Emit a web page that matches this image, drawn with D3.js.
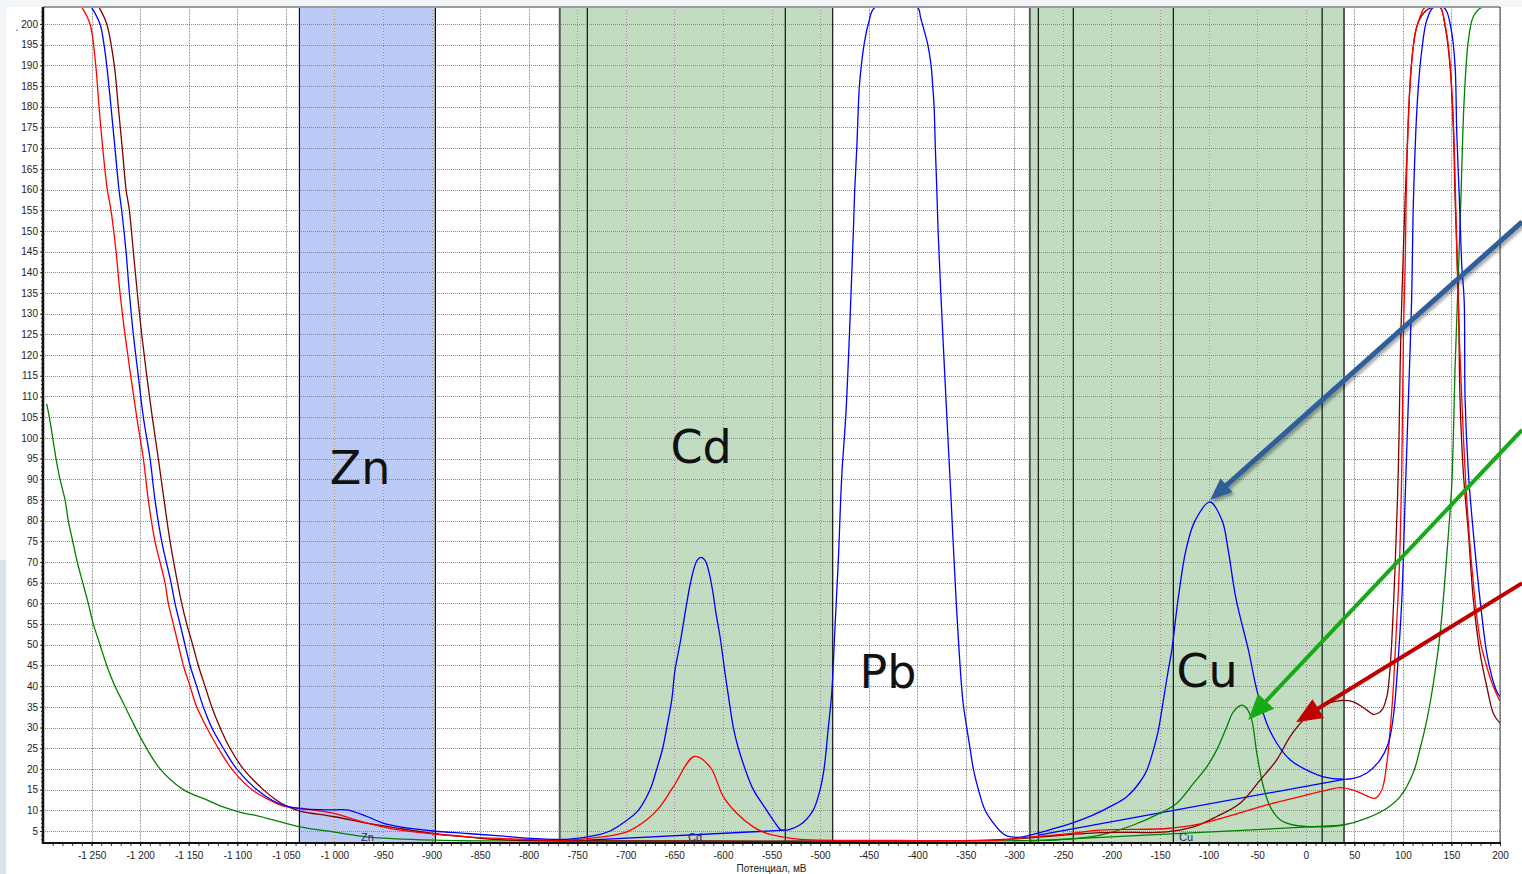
<!DOCTYPE html>
<html>
<head>
<meta charset="UTF-8">
<style>
  body { margin: 0; background: #f3f6f9; }
  svg { display: block; }
  .tick text { font-family: "Liberation Sans", Arial, sans-serif; font-size: 10px; fill: #222; }
</style>
</head>
<body>
<svg id="chart"></svg>
<script src="https://d3js.org/d3.v7.min.js"></script>
<script>
// ---- data (potential in mV, signal) ----
const xTicks = d3.range(-1250, 201, 50);
const yTicks = d3.range(5, 201, 5);

// integration windows
const zoneNames = ["Zn", "Cd", "Cu"];
const zoneFrom = [-1036, -768, -284];
const zoneTo = [-896, -487, 39.4];
const zoneInner = [[], [-739.6, -535.8], [-275.3, -239.3, -136.3, 16.9]];
const zoneTagX = [-966, -628.7, -123.2];

const elementNames = ["Zn", "Cd", "Pb", "Cu"];
const elementX = [-973.6, -622.5, -430, -101.5];
const elementY = [88.9, 93.9, 39.6, 39.8];

const blueCurve = [
  [-1250,204],[-1241.3,200],[-1237.2,195],[-1234.4,190],[-1230,180],[-1225.9,170],[-1221.8,160],[-1219,155],
  [-1214.5,145],[-1211.1,135],[-1207,125],[-1201.9,115],[-1196.7,105],[-1189.8,95],[-1184.7,85],[-1177.8,75],
  [-1168.2,65],[-1164.1,60],[-1158.9,55],[-1153.8,50],[-1148.6,45],[-1141.8,40],[-1135,35],[-1126.3,30],
  [-1114.4,25],[-1100.6,20],[-1080,15],[-1063.2,12.3],[-1049.1,11],[-1035.4,10.4],[-1001.4,10.1],[-987,10.1],
  [-966.4,8.5],[-949.9,6.9],[-932.4,6.0],
  [-898.5,5.0],[-863.4,4.4],[-829.5,3.8],[-808.9,3.4],[-760.8,3.0],[-729.9,4.0],[-716.2,5.0],[-702.5,7.0],
  [-687.1,10],[-675,15],[-668.1,20],[-662,25],[-657.8,30],[-652.7,36.7],[-649.3,44],[-644.1,50.4],[-637.3,60],
  [-633.8,64.5],[-629.7,68.5],[-626.6,70.4],[-622.5,71.1],[-618.4,70.4],[-614.3,67.5],[-610.2,62.5],
  [-607.1,57.5],[-603,52],[-597.8,43.1],[-592.7,35],[-589.3,30],
  [-584.1,25],[-577.2,20],[-568.7,15],[-554.9,10],[-547,7.2],[-539.4,5.2],[-520.6,6.5],[-507.2,10],[-500,15],
  [-495.9,20],
  [-491.5,30],[-488,38.3],[-484.6,54.4],[-481.2,70.5],[-477.7,90.6],[-473.2,106.7],[-468.1,135],[-465.7,150],
  [-464.3,160],[-462.2,170],[-460.6,180],[-459.5,185],[-457.5,190],[-454.7,195],[-450.3,200],[-443.4,204],
  [-399.8,204],[-396.5,201.5],[-389.1,195],[-385.7,190],[-384,185],[-382.6,180],[-381.3,170],[-379.8,160],
  [-378.5,150],[-375.7,135],[-370.3,109],[-365.1,85],[-360,61],[-353.1,36.7],[-349,30],[-345.6,25],[-342.2,20],
  [-337,15],[-330.1,10],[-321.9,7],[-314.7,5],[-307.8,3.8],[-294.1,3.5],[-273.5,4.6],[-252.9,6.0],[-239.2,7],
  [-218.6,8.9],[-201.4,10.9],[-184.2,13.3],[-170.5,16.9],[-163.6,19.7],[-156.8,24.6],[-151.7,29.4],
  [-146.5,36.7],[-141.4,44],[-137.9,48.7],[-131.4,61],[-123.2,73],[-113.9,80],[-98.5,84.5],[-86.1,80],
  [-79.9,73],[-71.7,61],[-59,48.7],[-50.4,39.1],[-40.1,31],[-29.8,26.2],[-16.1,22.2],[1.1,19.7],
  [18.2,18.1],[38.8,17.5],[49.1,17.7],[62.9,19],[76.6,22.2],[85.1,26.2],[90.2,32.6],[93.8,42],[98.9,60.8],
  [102.3,85],[105.7,109.2],[109,133.3],[110.9,157.5],[115,181.6],[119.5,193.7],[124.7,201],[131.4,204],
  [141.7,204],[145.2,203],[150.4,197.8],[153.8,189.7],[155.5,173.6],[158.2,157.5],[160.7,141.4],[163.1,133.3],
  [164.1,109],[167.5,91.4],[172.6,76.9],[179.5,60.8],[186.4,47.9],[191.6,42.3],[196.7,38.7],[200,37.5]
];

const redCurve = [
  [-1260,204],[-1251.6,200],[-1245.7,190],[-1242.3,180],[-1238.5,170],[-1233.8,160],[-1230,155],[-1224.8,145],
  [-1220.7,135],[-1215.6,125],[-1209.7,115],[-1203.5,105],[-1196.7,95],[-1191.6,85],[-1184.7,75],[-1174.4,65],
  [-1171,60],[-1165.8,55],[-1160.7,50],[-1155.5,45],[-1148.6,40],[-1141.8,35],[-1131.5,30],[-1119.5,25],
  [-1105.7,20],[-1085.1,15],[-1066,12.4],[-1052.6,11],[-1035.4,10.5],[-1001.4,9.3],[-983.9,8.1],[-966.4,6.9],
  [-949.9,6.0],[-932.4,5.2],[-898.5,4.3],
  [-863.4,3.6],[-829.5,3.2],[-760.8,2.8],[-726.5,3.5],[-699,4.8],[-678.4,7.7],[-664.7,10.9],[-651,15.7],
  [-629.4,23],[-613.3,20.5],[-599.6,13.3],[-585.8,9.3],[-568.7,6],[-554.9,4.4],[-537.8,3.5],[-520.6,3],
  [-417.6,2.7],[-314.7,2.8],[-283.8,3.5],[-246,4.3],[-211.7,5.2],[-143.1,5.6],[-108.8,6.7],[-74.5,8.9],
  [-40.1,11.3],[-5.8,13.3],[21.7,14.9],[35.4,15.5],[49.1,14.9],[62.9,13.5],[71.4,12.9],[78.3,14.9],[83.5,21.4],
  [86.9,29.4],[89.6,37.5],[92.5,50],[96.4,68.9],[98.9,93.1],[100.6,125.3],[102.3,141.4],[104.1,165.5],
  [107.5,185.6],[112.6,197.7],[117.8,201.8],[122.9,204],[138.4,204],[142.5,201],[147.6,193],[151.7,178],
  [154.3,157.5],[156.9,133.3],[160.7,109],[165.8,85],[172.6,64.8],[179.5,51.1],[186.4,44.7],[193.2,39.9],
  [199.4,36.7],[200,36.5]
];

const maroonCurve = [
  [-1242.3,204],[-1234.4,200],[-1226.6,190],[-1222.5,180],[-1218.4,170],[-1214.5,160],[-1211.1,155],[-1207,145],
  [-1202.9,135],[-1198.4,125],[-1193.2,115],[-1187.5,105],[-1181.3,95],[-1175.4,85],[-1169.2,75],[-1161.5,65],
  [-1157.2,60],[-1152,55],[-1145.9,50],[-1140.1,45],[-1133.2,40],[-1126.3,35],[-1117.8,30],[-1107.5,25],
  [-1093.8,20],[-1073.2,15],[-1060,12.5],[-1049.1,11],[-1035.4,9.8],[-1001.4,8.5],[-966.4,6.9],[-932.4,5.6],
  [-898.5,4.4],[-863.4,3.6],[-829.5,2.9],
  [-623.6,2.6],[-417.6,2.6],[-314.7,2.9],[-211.7,4.6],[-143.1,4.8],[-115.6,6.0],[-91.6,8.5],[-67.6,11.7],
  [-47,17.3],[-29.8,22.2],[-16.1,27.8],[-2.4,31.8],[14.8,35],[35.4,36.5],[49.1,36.2],[62.9,34.2],[69.7,33.2],
  [78.3,34.2],[83.5,37.5],[85.8,41.5],[87.9,48],[92,68.9],[95.4,93.1],[97.2,117.2],[98.9,133.3],[102.3,157.5],
  [105.7,177.6],[109.2,191.3],[114.4,199.4],[121.2,202.6],[129.8,204],[138.4,204],[143.5,199.4],[148.6,189.7],
  [152.1,173.6],[153.8,157.5],[157.2,133.3],[158.9,109],[162.3,91.4],[167.5,76.9],[172.6,60.8],[179.5,47.9],
  [186.4,39.9],[193.2,33.4],[200,31]
];

const greenCurve = [
  [-1296.2,108.2],[-1293.5,105],[-1290,100],[-1286.6,95],[-1282.5,90],[-1277.3,85],[-1274,80],[-1269.4,75],
  [-1264.7,70],[-1259.1,65],[-1253.4,60],[-1248.2,55],[-1241.3,50],[-1234.4,45],[-1225.9,40],[-1219,36.7],
  [-1208.7,31.8],[-1200.1,27.8],[-1179.5,20],[-1155.5,15],[-1131.5,12.5],[-1110.9,10.5],[-1093.8,9.3],
  [-1080,8.7],[-1035.4,6.0],[-1001.1,4.8],[-966.7,3.6],[-898.1,2.8],[-829.5,2.6],[-314.7,2.6],[-283.8,2.7],
  [-246,3.0],[-211.7,4.0],[-177.4,6.45],[-149.9,9.3],[-132.7,11.7],[-115.6,16.5],[-101.9,20.5],[-91.6,24.6],
  [-81.3,30.2],[-74.5,33.8],[-65.8,35.4],[-60.7,34.6],[-55.5,31.8],[-50.4,23.8],[-43.6,15.7],[-36.7,10.9],
  [-26.4,7.7],[-12.7,6.45],[11.4,6.0],[38.8,6.45],[62.9,8.1],[83.5,10.5],[97.2,13.3],[110.6,19],[117.8,25],
  [124.7,31.8],[131.4,40.7],[138.4,52.8],[146.9,76.9],[150.4,89],[153.8,117.2],[156.2,133.3],[159.7,157.5],
  [163.1,181.6],[167.5,196.1],[172.6,201.8],[181.3,204],[200,204]
];

// peak baselines
const blueBaseCd = [[-739.6, 2.8], [-535.8, 5.2]];
const blueBaseCu = [[-275.3, 4.0], [39.4, 17.5]];
const greenBaseCu = [[-283.8, 2.6], [39.4, 6.4]];

// annotation arrows: from (off chart right) -> to peak
const arrowFrom = [[222.7, 152.2], [222.7, 101.9], [222.7, 64.9]];
const arrowTo = [[-98.5, 85.0], [-59.3, 31.8], [-9.9, 31.3]];

// ---- drawing ----
const width = 1522, height = 874;
const padL = 43, padR = 1500, padT = 7, padB = 843;

const svg = d3.select("#chart").attr("width", width).attr("height", height);

const x = d3.scaleLinear().domain([-1300, 200]).range([padL, padR]);
const y = d3.scaleLinear().domain([2.1, 204.1]).range([padB, padT]);

const fmt = d3.formatLocale({decimal: ".", thousands: " ", grouping: [3], currency: ["", ""], minus: "-"}).format(",d");

// page / panel
svg.append("rect").attr("width", width).attr("height", height).attr("fill", "#f3f6f9");
svg.append("rect").attr("x", 6).attr("y", padT).attr("width", width - 6).attr("height", height - padT).attr("fill", "#fff");
svg.append("rect").attr("x", 0).attr("y", 560).attr("width", 6).attr("height", height - 560).attr("fill", "#d6e4ec");

const defs = svg.append("defs");
defs.append("clipPath").attr("id", "plot")
  .append("rect").attr("x", padL).attr("y", padT - 1).attr("width", padR - padL).attr("height", padB - padT + 1);

defs.append("filter").attr("id", "shadow")
  .attr("x", "-10%").attr("y", "-10%").attr("width", "130%").attr("height", "130%")
  .append("feDropShadow").attr("dx", 2).attr("dy", 2.5).attr("stdDeviation", 1.5)
  .attr("flood-color", "#000").attr("flood-opacity", 0.35);

// zones (fills)
const zoneFill = svg.append("g");
zoneNames.forEach((n, i) => {
  zoneFill.append("rect")
    .attr("x", x(zoneFrom[i])).attr("y", padT)
    .attr("width", x(zoneTo[i]) - x(zoneFrom[i])).attr("height", padB - padT)
    .attr("fill", n == "Zn" ? "#bccaf6" : "#c1dcc1");
});

// grid
const grid = svg.append("g").attr("shape-rendering", "crispEdges");
grid.selectAll(".gv").data(xTicks).enter().append("line")
  .attr("x1", d => Math.round(x(d)) + 0.5).attr("x2", d => Math.round(x(d)) + 0.5)
  .attr("y1", padT).attr("y2", padB)
  .attr("stroke", "#d9d9d9");
grid.selectAll(".gv2").data(xTicks).enter().append("line")
  .attr("x1", d => Math.round(x(d)) + 0.5).attr("x2", d => Math.round(x(d)) + 0.5)
  .attr("y1", padT).attr("y2", padB)
  .attr("stroke", "#8c8c8c").attr("stroke-dasharray", "1,2");
grid.selectAll(".gh").data(yTicks).enter().append("line")
  .attr("x1", padL).attr("x2", padR)
  .attr("y1", d => Math.round(y(d)) + 0.5).attr("y2", d => Math.round(y(d)) + 0.5)
  .attr("stroke", "#8a8a8a").attr("stroke-dasharray", "1,1");

// zone edges
const zoneEdge = svg.append("g");
zoneNames.forEach((n, i) => {
  [zoneFrom[i], zoneTo[i]].forEach((v, k) => {
    const dark = n == "Zn" || (n == "Cd" && k == 1);
    zoneEdge.append("line")
      .attr("x1", x(v)).attr("x2", x(v)).attr("y1", padT).attr("y2", padB)
      .attr("stroke", dark ? "#111" : "#5a5a5a")
      .attr("stroke-width", dark ? 1.2 : 2);
  });
  zoneInner[i].forEach(v => {
    zoneEdge.append("line")
      .attr("x1", x(v)).attr("x2", x(v)).attr("y1", padT).attr("y2", padB)
      .attr("stroke", "#111").attr("stroke-width", 1.2);
  });
});

// big element labels
svg.append("g").selectAll("text").data(elementNames).enter().append("text")
  .attr("x", (d, i) => x(elementX[i]))
  .attr("y", (d, i) => y(elementY[i]))
  .attr("text-anchor", "middle")
  .attr("font-family", "'DejaVu Sans', sans-serif")
  .attr("font-size", 46)
  .attr("fill", "#111")
  .text(d => d);

// curves
const plot = svg.append("g").attr("clip-path", "url(#plot)");
const line = d3.line().x(d => x(d[0])).y(d => y(d[1])).curve(d3.curveCatmullRom.alpha(0.5));
const straight = d3.line().x(d => x(d[0])).y(d => y(d[1]));

[[greenBaseCu, "#008000"], [blueBaseCd, "#0000ff"], [blueBaseCu, "#0000ff"]].forEach(b => {
  plot.append("path").attr("d", straight(b[0])).attr("fill", "none")
    .attr("stroke", b[1]).attr("stroke-width", 1.3);
});

[[greenCurve, "#008000"], [maroonCurve, "#800000"], [redCurve, "#ff0000"], [blueCurve, "#0000ff"]].forEach(c => {
  plot.append("path").attr("d", line(c[0])).attr("fill", "none")
    .attr("stroke", c[1]).attr("stroke-width", 1.3).attr("stroke-linejoin", "round");
});

// small zone tags
svg.append("g").selectAll("text").data(zoneNames).enter().append("text")
  .attr("x", (d, i) => x(zoneTagX[i]))
  .attr("y", y(2.6))
  .attr("text-anchor", "middle")
  .attr("font-family", "'Liberation Sans', Arial, sans-serif")
  .attr("font-size", 11)
  .attr("fill", "#1f2a6b")
  .text(d => d);

// axes
svg.append("g").attr("transform", `translate(0,${padB})`)
  .call(d3.axisBottom(x).tickValues(xTicks).tickFormat(fmt).tickSize(3).tickPadding(6));
svg.append("g").attr("transform", `translate(0,${padB})`)
  .call(d3.axisBottom(x).tickValues(d3.range(-1290, 201, 10)).tickFormat("").tickSize(3));
svg.append("g").attr("transform", `translate(${padL},0)`)
  .call(d3.axisLeft(y).tickValues(yTicks).tickSize(3).tickPadding(2));
svg.append("g").attr("transform", `translate(${padL},0)`)
  .call(d3.axisLeft(y).tickValues(d3.range(3, 204, 1)).tickFormat("").tickSize(2));
svg.selectAll(".domain").remove();
svg.selectAll(".tick line").attr("stroke", "#333");

// frame
svg.append("line").attr("x1", padL).attr("x2", padR).attr("y1", padT).attr("y2", padT)
  .attr("stroke", "#9a9a9a").attr("stroke-width", 2);
svg.append("line").attr("x1", padR).attr("x2", padR).attr("y1", padT).attr("y2", padB)
  .attr("stroke", "#444").attr("stroke-width", 1);
svg.append("line").attr("x1", padL).attr("x2", padR + 1).attr("y1", padB).attr("y2", padB)
  .attr("stroke", "#111").attr("stroke-width", 2);
svg.append("line").attr("x1", padL).attr("x2", padL).attr("y1", padT).attr("y2", padB + 1)
  .attr("stroke", "#111").attr("stroke-width", 2.5);

svg.append("text").attr("x", (padL + padR) / 2).attr("y", 872)
  .attr("text-anchor", "middle")
  .attr("font-family", "'Liberation Sans', Arial, sans-serif").attr("font-size", 10).attr("fill", "#222")
  .text("Потенциал, мВ");

// stray y title mark
svg.append("text").attr("x", 15).attr("y", 38)
  .attr("font-family", "'Liberation Sans', Arial, sans-serif").attr("font-size", 10).attr("fill", "#2233cc")
  .text("ˊ");

// arrows
const arrowColor = ["#2f5e9b", "#17aa17", "#c00000"];
const arrowWidth = [5, 4, 4];
const arrowHead = [22, 26, 26];
const arrowHalf = [9, 11, 11];
const arrowG = svg.append("g");
arrowFrom.forEach((f, i) => {
  const sx = x(f[0]), sy = y(f[1]), tx = x(arrowTo[i][0]), ty = y(arrowTo[i][1]);
  const len = Math.hypot(tx - sx, ty - sy), ux = (tx - sx) / len, uy = (ty - sy) / len;
  const bx = tx - ux * arrowHead[i], by = ty - uy * arrowHead[i];
  const a = arrowG.append("g").attr("filter", i == 0 ? "url(#shadow)" : null);
  a.append("line").attr("x1", sx).attr("y1", sy).attr("x2", bx + ux * 2).attr("y2", by + uy * 2)
    .attr("stroke", arrowColor[i]).attr("stroke-width", arrowWidth[i]);
  a.append("path")
    .attr("d", `M${tx},${ty}L${bx - uy * arrowHalf[i]},${by + ux * arrowHalf[i]}L${bx + uy * arrowHalf[i]},${by - ux * arrowHalf[i]}Z`)
    .attr("fill", arrowColor[i]);
});
</script>
</body>
</html>
